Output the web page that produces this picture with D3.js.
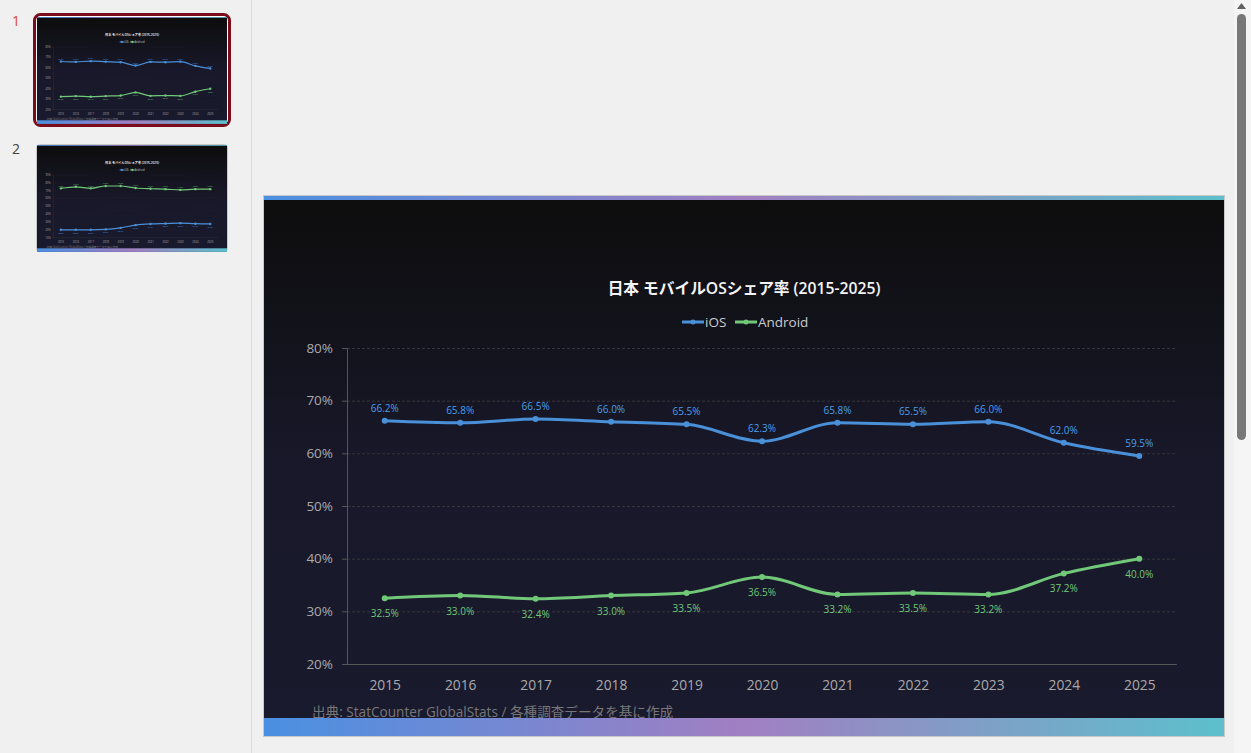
<!DOCTYPE html>
<html>
<head>
<meta charset="utf-8">
<script src="https://cdn.jsdelivr.net/npm/d3@7"></script>
<style>
html, body { margin: 0; padding: 0; background: #f0f0f0; overflow: hidden; }
svg { display: block; }
text { font-family: "Open Sans", "Noto Sans CJK JP", sans-serif; }
</style>
</head>
<body>
<svg id="page" width="1251" height="753"></svg>
<script>
const YEARS = ['2015', '2016', '2017', '2018', '2019', '2020', '2021', '2022', '2023', '2024', '2025'];
const IOS_SHARE = [66.2, 65.8, 66.5, 66.0, 65.5, 62.3, 65.8, 65.5, 66.0, 62.0, 59.5];
const ANDROID_SHARE = [32.5, 33.0, 32.4, 33.0, 33.5, 36.5, 33.2, 33.5, 33.2, 37.2, 40.0];
const TICKS_1 = [20, 30, 40, 50, 60, 70, 80];

// second slide, only seen as a thumbnail, values are estimates
const IOS_SHARE_2 = [20.0, 20.0, 20.0, 20.5, 22.5, 26.0, 27.5, 28.0, 28.5, 27.8, 27.5];
const ANDROID_SHARE_2 = [73.0, 75.0, 73.0, 76.0, 76.0, 73.5, 72.5, 72.0, 71.0, 72.0, 72.0];
const TICKS_2 = [10, 20, 30, 40, 50, 60, 70, 80, 90];

const TITLE = '日本 モバイルOSシェア率 (2015-2025)';
const SOURCE = '出典: StatCounter GlobalStats / 各種調査データを基に作成';
const IOS_COLOR = '#4a90d9';
const IOS_LABEL = '#4a9eea';
const ANDROID_COLOR = '#70c878';
const SLIDE_W = 960, SLIDE_H = 540;

const svg = d3.select('#page');
const defs = svg.append('defs');

const accent = defs.append('linearGradient').attr('id', 'accent');
accent.append('stop').attr('offset', '0%').attr('stop-color', '#4a90e2');
accent.append('stop').attr('offset', '50%').attr('stop-color', '#a17fc2');
accent.append('stop').attr('offset', '100%').attr('stop-color', '#5cc0cc');

const bg = defs.append('linearGradient').attr('id', 'slideBg')
	.attr('x1', 0).attr('y1', 0).attr('x2', 0).attr('y2', 1);
bg.append('stop').attr('offset', '0%').attr('stop-color', '#0d0d0d');
bg.append('stop').attr('offset', '50%').attr('stop-color', '#18182a');
bg.append('stop').attr('offset', '100%').attr('stop-color', '#1a1a2e');

function drawSlide(g, iosValues, androidValues, ticks, lineWidth, dotSize) {
	g.append('rect').attr('width', SLIDE_W).attr('height', SLIDE_H).attr('fill', 'url(#slideBg)');
	g.append('rect').attr('width', SLIDE_W).attr('height', 4).attr('fill', 'url(#accent)');

	const x = d3.scalePoint().domain(YEARS).range([83, 913]).padding(0.5);
	const y = d3.scaleLinear().domain(d3.extent(ticks)).range([468, 152]);

	g.append('text').attr('x', 480).attr('y', 98).attr('text-anchor', 'middle')
		.attr('font-size', 15.7).attr('font-weight', 600).attr('fill', '#f4f4f4').text(TITLE);

	// legend
	const legend = g.append('g').attr('transform', 'translate(0,126)');
	[['iOS', IOS_COLOR, 418], ['Android', ANDROID_COLOR, 471]].forEach(([name, color, lx]) => {
		legend.append('line').attr('x1', lx).attr('x2', lx + 22)
			.attr('stroke', color).attr('stroke-width', lineWidth);
		legend.append('circle').attr('cx', lx + 11).attr('r', dotSize - 0.5).attr('fill', color);
		legend.append('text').attr('x', lx + 23).attr('y', 5).attr('font-size', 13.5)
			.attr('fill', '#cccccc').text(name);
	});

	// grid
	const grid = g.append('g').attr('transform', 'translate(83,0)')
		.call(d3.axisLeft(y).tickValues(ticks).tickSize(-829).tickFormat(''));
	grid.select('.domain').remove();
	grid.selectAll('line').attr('stroke', '#3f3f3f').attr('stroke-width', 0.8).attr('stroke-dasharray', '3 2');

	const yAxis = g.append('g').attr('transform', 'translate(83,0)')
		.call(d3.axisLeft(y).tickValues(ticks).tickSize(5).tickPadding(9).tickFormat(d => d + '%'));
	yAxis.select('.domain').attr('stroke', '#555555');
	yAxis.selectAll('line').attr('stroke', '#555555');
	yAxis.selectAll('text').attr('font-size', 13.5).attr('fill', '#aaaaaa');

	const xAxis = g.append('g').attr('transform', 'translate(0,468)')
		.call(d3.axisBottom(x).tickSize(0).tickPadding(16));
	xAxis.select('.domain').attr('stroke', '#555555').attr('d', 'M83,0.5H913');
	xAxis.selectAll('text').attr('font-size', 13.8).attr('fill', '#aaaaaa');

	// labels go above the line for whichever series is on top
	const iosAbove = d3.mean(iosValues) > d3.mean(androidValues);
	[[iosValues, IOS_COLOR, IOS_LABEL, iosAbove], [androidValues, ANDROID_COLOR, ANDROID_COLOR, !iosAbove]].forEach(([values, color, labelColor, above]) => {
		const line = d3.line().x((d, i) => x(YEARS[i])).y(d => y(d)).curve(d3.curveMonotoneX);
		g.append('path').attr('d', line(values)).attr('fill', 'none')
			.attr('stroke', color).attr('stroke-width', lineWidth);
		g.selectAll(null).data(values).enter().append('circle')
			.attr('cx', (d, i) => x(YEARS[i])).attr('cy', d => y(d)).attr('r', dotSize).attr('fill', color);
		g.selectAll(null).data(values).enter().append('text')
			.attr('x', (d, i) => x(YEARS[i])).attr('y', d => y(d) + (above ? -9 : 19))
			.attr('text-anchor', 'middle').attr('font-size', 10).attr('fill', labelColor)
			.text(d => d.toFixed(1) + '%');
	});

	g.append('text').attr('x', 48).attr('y', 521).attr('font-size', 13.6)
		.attr('fill', '#777777').text(SOURCE);
	g.append('rect').attr('y', 522).attr('width', SLIDE_W).attr('height', 18).attr('fill', 'url(#accent)');
}

// sidebar
svg.append('line').attr('x1', 251.5).attr('x2', 251.5).attr('y1', 0).attr('y2', 753).attr('stroke', '#dcdcdc');
svg.append('text').attr('x', 12).attr('y', 26).attr('font-size', 14).attr('fill', '#d9482b').text('1');
svg.append('text').attr('x', 12).attr('y', 154).attr('font-size', 14).attr('fill', '#444444').text('2');

const thumbScale = 190 / SLIDE_W;
svg.append('rect').attr('x', 34.5).attr('y', 14.5).attr('width', 195).attr('height', 111).attr('rx', 6)
	.attr('fill', '#ffffff').attr('stroke', '#7a0c1c').attr('stroke-width', 3);
drawSlide(svg.append('g').attr('transform', `translate(37,17) scale(${thumbScale})`), IOS_SHARE, ANDROID_SHARE, TICKS_1, 6, 6);
svg.append('rect').attr('x', 36.5).attr('y', 144.5).attr('width', 191).attr('height', 107).attr('rx', 3)
	.attr('fill', 'none').attr('stroke', '#c8c8c8');
drawSlide(svg.append('g').attr('transform', `translate(37,145) scale(${thumbScale})`), IOS_SHARE_2, ANDROID_SHARE_2, TICKS_2, 6, 6);

// main slide
svg.append('rect').attr('x', 263.5).attr('y', 195.5).attr('width', 961).attr('height', 541)
	.attr('fill', 'none').attr('stroke', '#c8c8c8');
drawSlide(svg.append('g').attr('transform', 'translate(264,196)'), IOS_SHARE, ANDROID_SHARE, TICKS_1, 3, 3);

// scrollbar
svg.append('rect').attr('x', 1234).attr('y', 0).attr('width', 17).attr('height', 753).attr('fill', '#f5f5f5');
svg.append('rect').attr('x', 1237).attr('y', 14).attr('width', 9).attr('height', 426).attr('rx', 4.5).attr('fill', '#787878');
svg.append('path').attr('d', 'M1237,9 L1241.5,3 L1246,9 Z').attr('fill', '#606060');
</script>
</body>
</html>
